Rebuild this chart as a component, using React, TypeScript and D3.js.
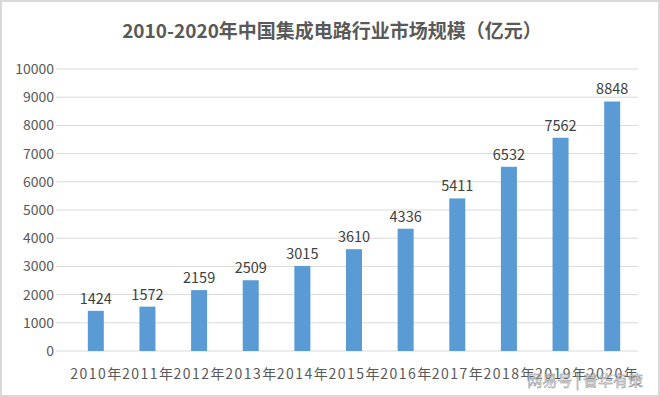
import React, { useEffect, useRef } from "react";
import * as d3 from "d3";

const years = ["2010年", "2011年", "2012年", "2013年", "2014年", "2015年", "2016年", "2017年", "2018年", "2019年", "2020年"];
const marketSize = [1424, 1572, 2159, 2509, 3015, 3610, 4336, 5411, 6532, 7562, 8848];
const yTicks = [0, 1000, 2000, 3000, 4000, 5000, 6000, 7000, 8000, 9000, 10000];
const title = "2010-2020年中国集成电路行业市场规模（亿元）";

const W = 660;
const H = 397;

const App = () => {
    const ref = useRef<SVGSVGElement>(null);

    useEffect(() => {
        const svg = d3.select(ref.current);
        svg.selectAll("*").remove();

        const margin = { top: 69, right: 22, bottom: 46, left: 70 };
        const font = "'Microsoft YaHei', 'Noto Sans CJK SC', sans-serif";

        // outer frame
        svg.append("rect")
            .attr("x", 1).attr("y", 1)
            .attr("width", W - 2).attr("height", H - 2)
            .attr("fill", "#fff")
            .attr("stroke", "#d9d9d9")
            .attr("stroke-width", 2);

        svg.append("text")
            .attr("x", 332)
            .attr("y", 38)
            .attr("text-anchor", "middle")
            .attr("font-family", font)
            .attr("font-size", 19)
            .attr("font-weight", "bold")
            .attr("fill", "#595959")
            .text(title);

        const x = d3.scaleBand()
            .domain(years)
            .range([margin.left, W - margin.right])
            .paddingInner(0.69)
            .paddingOuter(0.345);

        const y = d3.scaleLinear()
            .domain([0, 10000])
            .range([H - margin.bottom, margin.top]);

        // grid
        svg.append("g")
            .selectAll("line")
            .data(yTicks)
            .enter()
            .append("line")
            .attr("x1", margin.left - 14)
            .attr("x2", W - margin.right)
            .attr("y1", d => y(d))
            .attr("y2", d => y(d))
            .attr("stroke", "#d9d9d9")
            .attr("stroke-width", 1);

        // y labels
        svg.append("g")
            .selectAll("text")
            .data(yTicks)
            .enter()
            .append("text")
            .attr("x", 54)
            .attr("y", d => y(d))
            .attr("dy", "0.35em")
            .attr("text-anchor", "end")
            .attr("font-family", font)
            .attr("font-size", 14)
            .attr("fill", "#595959")
            .text(d => d);

        // bars
        svg.append("g")
            .selectAll("rect")
            .data(marketSize)
            .enter()
            .append("rect")
            .attr("x", (d, i) => x(years[i])!)
            .attr("y", d => y(d))
            .attr("width", x.bandwidth())
            .attr("height", d => y(0) - y(d))
            .attr("fill", "#5b9bd5");

        // value labels
        svg.append("g")
            .selectAll("text")
            .data(marketSize)
            .enter()
            .append("text")
            .attr("x", (d, i) => x(years[i])! + x.bandwidth() / 2)
            .attr("y", d => y(d) - 7)
            .attr("text-anchor", "middle")
            .attr("font-family", font)
            .attr("font-size", 14.5)
            .attr("fill", "#404040")
            .text(d => d);

        // x labels
        svg.append("g")
            .selectAll("text")
            .data(years)
            .enter()
            .append("text")
            .attr("x", d => x(d)! + x.bandwidth() / 2)
            .attr("y", 379)
            .attr("text-anchor", "middle")
            .attr("font-family", font)
            .attr("font-size", 14)
            .attr("textLength", 51)
            .attr("lengthAdjust", "spacing")
            .attr("fill", "#595959")
            .text(d => d);

        // watermark
        svg.append("text")
            .attr("x", 643)
            .attr("y", 386)
            .attr("text-anchor", "end")
            .attr("font-family", font)
            .attr("font-size", 15)
            .attr("fill", "#ffffff")
            .attr("fill-opacity", 0.7)
            .attr("stroke", "#888")
            .attr("stroke-width", 0.5)
            .text("网易号 | 普华有策");
    }, []);

    return (
        <svg ref={ref} width={W} height={H} style={{ position: "absolute", left: 0, top: 0 }}></svg>
    );
};

export default App;
